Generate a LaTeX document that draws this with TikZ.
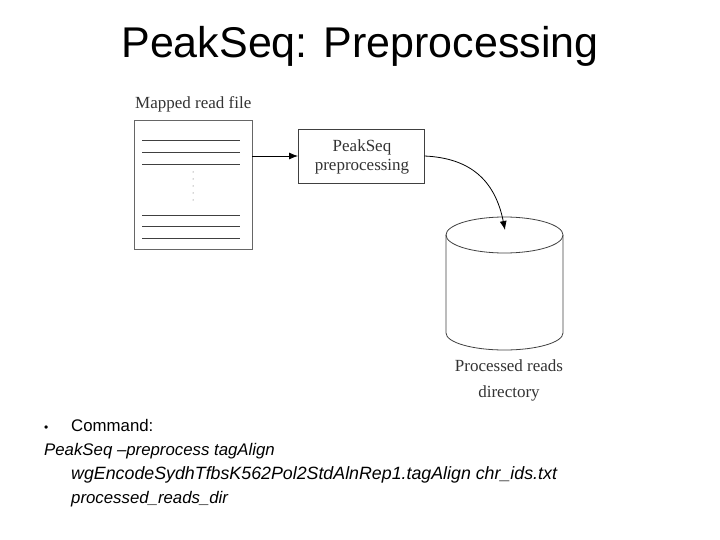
\documentclass[tikz,border=0pt]{standalone}
\usepackage{fontspec}
\setmainfont{Liberation Sans}
\newfontfamily\diag{Liberation Serif}
\usetikzlibrary{arrows.meta}
\begin{document}
\begin{tikzpicture}[x=1pt,y=-1pt,
  dtext/.style={font=\diag\fontsize{17}{18}\selectfont, text=black!80, inner sep=0pt},
  rl/.style={draw=black!75, line width=0.9pt},
  bl/.style={anchor=base west, inner sep=0pt, font=\fontsize{16.8}{18}\selectfont}]
\useasboundingbox (0,0) rectangle (720,540);
\node (title) at (360,46) {\fontsize{43}{48}\selectfont PeakSeq: Preprocessing};
% file
\node[dtext, anchor=base west] (flabel) at (135,109) {Mapped read file};
\node[draw=black!60, minimum width=118pt, minimum height=129pt, inner sep=0pt, anchor=north west] (file) at (134,120) {};
\foreach \yy in {140,152,164,215,226,238} \draw[rl] (142,\yy) -- (240,\yy);
\foreach \yy in {172,179,186,193,200} \fill[black!70] (193,\yy) circle (0.5pt);
% process
\node[draw=black!75, minimum width=126pt, minimum height=54pt, inner sep=0pt, anchor=north west] (proc) at (298,129) {};
\node[dtext, align=center] (ptext) at (362,157) {PeakSeq\\[1pt]preprocessing};
\draw[-{Latex[length=9pt,width=7pt]}, line width=0.8pt] (file.east |- 0,156) -- (proc.west |- 0,156);
% cylinder
\draw[black!75, line width=0.8pt] (446,235) arc[start angle=180,end angle=-180,x radius=58.5pt,y radius=18pt];
\draw[black!75, line width=0.8pt] (446,235) -- (446,333) arc[start angle=180,end angle=360,x radius=58.5pt,y radius=17pt] -- (563,235);
\draw[-{Latex[length=9pt,width=7pt]}, line width=0.8pt] (proc.east |- 0,156) .. controls (470,158) and (495,180) .. (505,230);
\node[dtext] (plabel) at (509,366) {Processed reads};
\node[dtext] (dlabel) at (509,393) {directory};
% bullets
\node[bl] (b0) at (44,431) {\fontsize{12}{14}\selectfont •};
\node[bl] (b1) at (71,431) {Command:};
\node[bl] (b2) at (44,455) {\itshape PeakSeq –preprocess tagAlign};
\node[bl] (b3) at (71,479) {\fontsize{17.8}{19}\selectfont\itshape wgEncodeSydhTfbsK562Pol2StdAlnRep1.tagAlign chr\_ids.txt};
\node[bl] (b4) at (71,503) {\itshape processed\_reads\_dir};
\end{tikzpicture}
\end{document}
